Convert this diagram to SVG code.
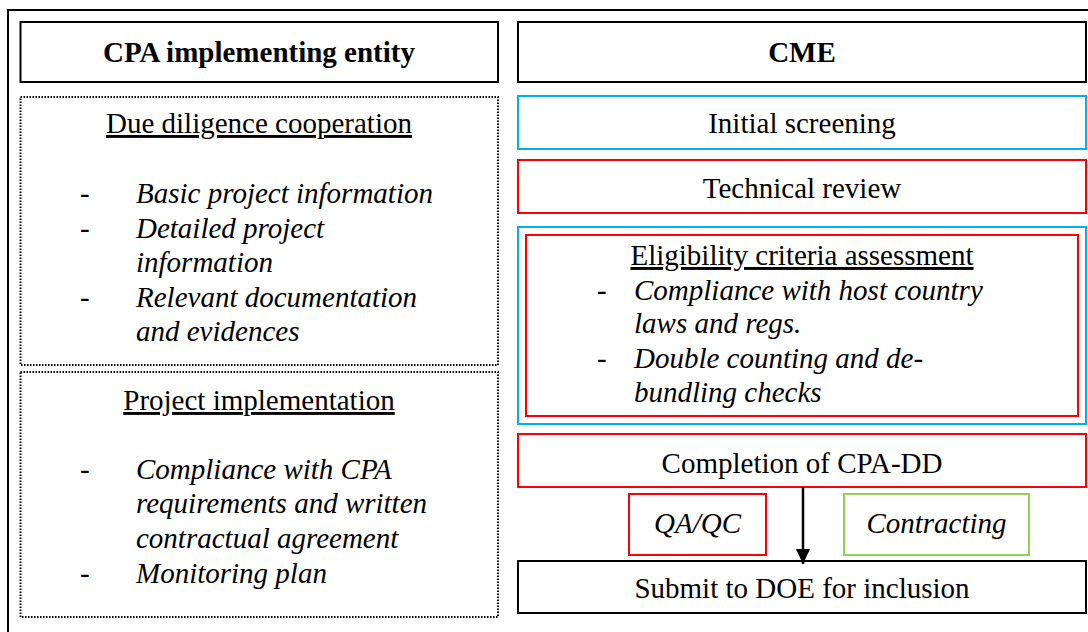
<svg xmlns="http://www.w3.org/2000/svg" width="1088" height="632" viewBox="0 0 1088 632">
<defs>
<style>
text{font-family:"Liberation Serif","Times New Roman",serif;font-size:29px;fill:#000}
.b{font-weight:bold}
.i{font-style:italic}
.u{text-decoration:underline}
.m{text-anchor:middle}
.k{fill:#fff;stroke:#000;stroke-width:2}
.d{fill:#fff;stroke:#000;stroke-width:2;stroke-dasharray:1.5 1.5}
.bl{fill:#fff;stroke:#00B0F0;stroke-width:2}
.rd{fill:#fff;stroke:#FF0000;stroke-width:2}
.gr{fill:#fff;stroke:#92D050;stroke-width:2}
</style>
<marker id="ah" markerWidth="15" markerHeight="14" viewBox="0 0 15 14" refX="15" refY="7" orient="auto" markerUnits="userSpaceOnUse">
<path d="M0,0 L15,7 L0,14 z" fill="#000"/>
</marker>
</defs>
<rect width="1088" height="632" fill="#fff"/>
<rect x="8" y="10" width="1100" height="640" fill="none" stroke="#000" stroke-width="2"/>

<g id="cpa-header">
<rect class="k" x="20.5" y="22" width="477.5" height="60"/>
<text class="b m" x="259" y="62">CPA implementing entity</text>
</g>
<g id="due-diligence">
<rect class="d" x="20.5" y="97" width="477.5" height="268"/>
<text class="u m" x="259" y="133">Due diligence cooperation</text>
<text x="80" y="203">-</text><text class="i" x="136" y="203">Basic project information</text>
<text x="80" y="238">-</text><text class="i" x="136" y="238">Detailed project</text>
<text class="i" x="136" y="272">information</text>
<text x="80" y="307">-</text><text class="i" x="136" y="307">Relevant documentation</text>
<text class="i" x="136" y="341">and evidences</text>
</g>
<g id="project-implementation">
<rect class="d" x="20.5" y="372" width="477.5" height="245"/>
<text class="u m" x="259" y="410">Project implementation</text>
<text x="80" y="479">-</text><text class="i" x="136" y="479">Compliance with CPA</text>
<text class="i" x="136" y="513">requirements and written</text>
<text class="i" x="136" y="548">contractual agreement</text>
<text x="80" y="583">-</text><text class="i" x="136" y="583">Monitoring plan</text>
</g>

<g id="cme-header">
<rect class="k" x="518" y="22" width="568" height="60"/>
<text class="b m" x="802" y="62">CME</text>
</g>
<g id="initial-screening">
<rect class="bl" x="518" y="96" width="568" height="53"/>
<text class="m" x="802" y="133">Initial screening</text>
</g>
<g id="technical-review">
<rect class="rd" x="518" y="160" width="568" height="53"/>
<text class="m" x="802" y="198">Technical review</text>
</g>
<g id="eligibility">
<rect class="bl" x="518" y="227" width="568" height="197"/>
<rect class="rd" x="526" y="235" width="552" height="181"/>
<text class="u m" x="802" y="265">Eligibility criteria assessment</text>
<text x="597" y="300">-</text><text class="i" x="634" y="300">Compliance with host country</text>
<text class="i" x="634" y="333">laws and regs.</text>
<text x="597" y="368">-</text><text class="i" x="634" y="368">Double counting and de-</text>
<text class="i" x="634" y="402">bundling checks</text>
</g>
<g id="completion">
<rect class="rd" x="518" y="434" width="568" height="53"/>
<text class="m" x="802" y="473">Completion of CPA-DD</text>
</g>
<g id="qaqc">
<rect class="rd" x="629" y="494" width="137" height="61"/>
<text class="i m" x="697.5" y="533">QA/QC</text>
</g>
<g id="contracting">
<rect class="gr" x="844" y="494" width="185" height="61"/>
<text class="i m" x="936.5" y="533">Contracting</text>
</g>
<g id="submit">
<rect class="k" x="518" y="561" width="568" height="52"/>
<text class="m" x="802" y="598">Submit to DOE for inclusion</text>
</g>

<g id="connectors">
<line x1="803" y1="487" x2="803" y2="564" stroke="#000" stroke-width="2.5" marker-end="url(#ah)"/>
</g>
</svg>
